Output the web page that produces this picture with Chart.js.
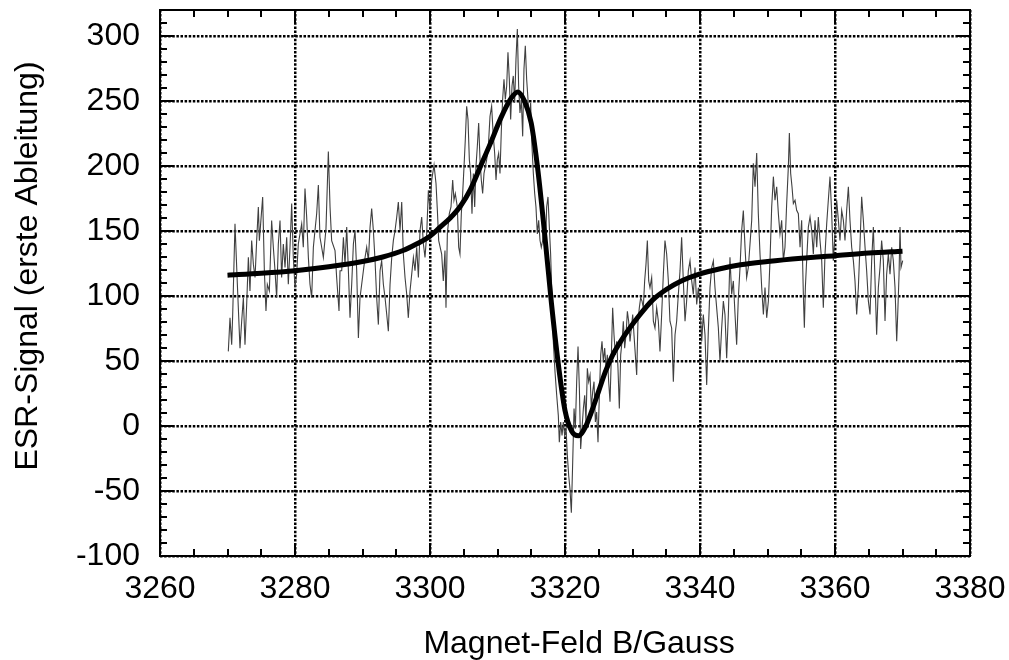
<!DOCTYPE html>
<html><head><meta charset="utf-8">
<script src="https://cdn.jsdelivr.net/npm/chart.js@4/dist/chart.umd.min.js"></script>
<style>html,body{margin:0;padding:0;background:#fff;}#wrap{width:1009px;height:660px;}</style>
</head><body><div id="wrap"><canvas id="c" width="1009" height="660"></canvas></div>
<script>
const xTicks = [3260,3280,3300,3320,3340,3360,3380];
const yTicks = [-100,-50,0,50,100,150,200,250,300];
const xMinorStep = 5, yMinorStep = 10;
const xTitle = 'Magnet-Feld B/Gauss';
const yTitle = 'ESR-Signal (erste Ableitung)';

// measured signal [B (Gauss), signal]
const measured = [
[3270.12,57.4],[3270.37,83.2],[3270.62,62.5],[3270.77,85.8],[3271.11,155.5],[3271.46,109.0],[3271.85,59.9],[3272.10,80.6],[3272.35,98.7],[3272.59,62.5],[3272.84,93.5],[3273.09,129.7],[3273.33,103.9],[3273.58,142.6],[3273.83,124.5],[3274.08,114.2],[3274.32,142.6],[3274.57,168.5],[3274.72,142.6],[3274.91,155.5],[3275.21,176.2],[3275.46,119.4],[3275.70,88.4],[3275.90,109.0],[3276.20,103.9],[3276.54,158.1],[3276.79,137.5],[3277.04,119.4],[3277.28,98.7],[3277.53,140.0],[3277.78,158.1],[3278.02,114.2],[3278.27,140.0],[3278.52,122.0],[3278.77,145.2],[3279.01,109.0],[3279.26,137.5],[3279.51,171.1],[3279.75,129.7],[3280.00,106.5],[3280.25,116.8],[3280.49,140.0],[3280.99,155.5],[3281.23,137.5],[3281.48,182.7],[3281.73,160.7],[3281.98,129.7],[3282.22,109.0],[3282.47,98.7],[3282.72,137.5],[3282.96,150.4],[3283.21,163.3],[3283.46,185.3],[3283.70,145.2],[3283.95,137.5],[3284.20,129.7],[3284.59,151.7],[3284.94,211.1],[3285.19,168.5],[3285.43,142.6],[3285.93,134.9],[3286.17,114.2],[3286.52,88.4],[3286.67,119.4],
[3286.92,119.4],[3287.17,145.2],[3287.41,124.5],[3287.66,153.0],[3287.91,119.4],[3288.15,83.2],[3288.40,109.0],[3288.65,140.0],[3288.89,150.4],[3289.14,119.4],[3289.39,67.7],[3289.63,98.7],[3289.88,109.0],[3290.13,119.4],[3290.38,129.7],[3290.62,137.5],[3290.87,127.1],[3291.12,153.0],[3291.36,167.2],[3291.61,150.4],[3291.86,127.1],[3292.10,98.7],[3292.35,78.0],[3292.60,119.4],[3292.84,127.1],[3293.09,109.0],[3293.34,98.7],[3293.59,85.8],[3293.83,72.9],[3294.08,109.0],[3294.33,129.7],[3294.57,142.6],[3294.82,150.4],[3295.07,160.7],[3295.31,172.3],[3295.56,150.4],[3295.81,172.3],[3296.05,132.3],[3296.30,114.2],[3296.55,101.3],[3296.79,83.2],[3297.04,103.9],[3297.29,116.8],[3297.54,129.7],[3297.78,119.4],[3298.03,137.5],[3298.28,114.2],[3298.52,150.4],[3298.77,160.7],[3299.02,140.0],[3299.26,129.7],[3299.51,147.8],[3299.76,181.4],[3300.00,165.9],[3300.25,189.1],[3300.60,200.8],[3300.89,186.6],[3301.09,165.9],[3301.29,142.6],
[3301.73,132.3],[3301.97,111.6],[3302.22,134.9],[3302.37,91.0],[3302.57,147.8],[3302.86,163.3],[3303.11,168.5],[3303.36,189.2],[3303.55,173.7],[3303.75,178.8],[3304.05,168.5],[3304.25,137.5],[3304.44,132.3],[3304.64,163.3],[3304.84,178.8],[3305.04,199.5],[3305.23,220.2],[3305.43,246.0],[3305.63,235.7],[3305.83,204.7],[3306.02,194.3],[3306.22,163.3],[3306.42,194.3],[3306.62,168.5],[3306.81,199.5],[3307.01,215.0],[3307.21,233.1],[3307.41,204.7],[3307.60,189.2],[3307.80,178.8],[3308.00,194.3],[3308.20,199.5],[3308.39,204.7],[3308.64,215.0],[3308.89,238.3],[3309.13,246.0],[3309.38,222.8],[3309.58,209.8],[3309.78,189.2],[3309.97,204.7],[3310.17,209.8],[3310.37,194.3],[3310.57,227.9],[3310.76,251.2],[3310.96,266.7],[3311.16,251.2],[3311.36,261.5],[3311.55,287.4],[3311.75,266.7],[3311.95,235.7],[3312.15,261.5],[3312.34,269.3],[3312.54,248.6],[3312.74,282.2],[3312.94,305.4],[3313.13,261.5],[3313.33,240.8],[3313.53,251.2],[3313.73,222.8],[3313.92,274.4],[3314.12,292.5],[3314.32,266.7],[3314.52,251.2],[3314.71,235.7],[3314.91,248.6],[3315.11,215.0],[3315.31,194.3],[3315.51,178.8],[3315.70,168.5],[3315.90,147.8],[3316.10,158.2],[3316.30,142.7],[3316.49,137.5],[3316.69,142.7],[3316.89,158.2],[3317.09,132.3],[3317.28,168.5],[3317.48,176.2],[3317.68,153.0],[3317.87,132.3],
[3318.27,65.1],[3318.52,41.8],[3318.77,23.7],[3319.01,8.2],[3319.16,-12.4],[3319.36,3.1],[3319.56,-7.3],[3319.75,3.1],[3319.95,-7.3],[3320.15,-2.1],[3320.35,-22.8],[3320.55,-38.3],[3320.74,-48.6],[3320.94,-66.7],[3321.14,-27.9],[3321.34,13.4],[3321.53,-2.1],[3321.73,34.1],[3321.93,61.2],[3322.13,28.9],[3322.32,-17.6],[3322.52,-2.1],[3322.72,13.4],[3322.92,23.7],[3323.11,3.1],[3323.31,44.4],[3323.51,34.1],[3323.71,39.2],[3323.90,13.4],[3324.10,26.3],[3324.30,34.1],[3324.50,3.1],[3324.69,10.8],[3324.89,-12.4],[3325.09,23.7],[3325.29,54.7],[3325.48,65.1],[3325.68,49.6],[3325.88,59.9],[3326.08,44.4],[3326.27,54.7],[3326.47,34.1],[3326.67,18.6],[3326.87,54.7],[3327.06,90.9],[3327.26,70.2],[3327.46,54.7],[3327.66,65.1],[3327.85,44.4],[3328.05,13.4],[3328.25,54.7],[3328.45,65.1],[3328.64,80.6],[3328.84,59.9],[3329.04,70.2],[3329.24,88.3],[3329.43,80.6],[3329.63,65.1],[3329.83,75.4],[3330.03,85.7],[3330.22,70.2],[3330.42,54.7],[3330.62,39.2],[3330.81,80.6],[3331.01,90.9],[3331.21,98.7],[3331.41,96.1],[3331.60,90.9],[3331.80,111.6],[3332.00,124.5],[3332.20,142.6],[3332.40,111.6],[3332.59,106.4],
[3332.84,114.2],[3333.09,80.6],[3333.33,75.4],[3333.58,90.9],[3333.83,80.6],[3334.07,57.3],[3334.32,85.7],[3334.57,116.7],[3334.81,142.6],[3335.06,132.3],[3335.31,111.6],[3335.55,80.6],[3335.80,75.4],[3336.05,34.1],[3336.30,70.2],[3336.54,80.6],[3336.79,101.3],[3337.04,119.3],[3337.28,145.2],[3337.53,111.6],[3337.78,80.6],[3338.02,96.1],[3338.27,119.3],[3338.52,127.1],[3338.77,111.6],[3339.01,101.3],[3339.26,121.9],[3339.51,93.5],[3339.75,106.4],[3340.00,93.5],[3340.25,65.1],[3340.49,85.7],[3340.74,70.2],[3340.99,31.5],[3341.23,72.8],[3341.48,106.4],[3341.73,121.9],[3341.98,127.1],[3342.22,106.4],[3342.47,90.9],[3342.72,75.4],[3342.96,49.6],[3343.21,75.4],[3343.46,96.1],[3343.70,85.7],[3343.95,52.1],[3344.20,85.7],[3344.44,129.7],[3344.69,101.3],[3344.94,111.6],[3345.19,85.7],[3345.43,62.5],[3345.68,98.7],[3345.93,121.9],[3346.17,150.3],[3346.42,165.8],[3346.67,137.4],[3346.91,114.2],[3347.16,121.9],
[3347.66,158.2],[3347.90,202.1],[3348.15,184.0],[3348.40,209.9],[3348.64,163.3],[3348.89,132.3],[3349.14,106.5],[3349.39,85.8],[3349.63,106.5],[3349.88,83.2],[3350.13,96.2],[3350.37,127.2],[3350.62,168.5],[3350.87,191.8],[3351.11,173.7],[3351.36,184.0],[3351.61,163.3],[3351.85,147.8],[3352.10,158.2],[3352.35,127.2],[3352.59,137.5],[3352.84,171.1],[3353.09,199.5],[3353.24,225.4],[3353.43,194.4],[3353.63,184.0],[3353.83,171.1],[3354.08,173.7],[3354.32,165.9],[3354.57,163.3],[3354.82,137.5],[3355.06,158.2],[3355.31,101.3],[3355.46,75.5],[3355.61,106.5],[3355.80,127.2],[3356.05,153.0],[3356.30,160.8],[3356.55,150.4],[3356.79,132.3],[3357.04,158.2],[3357.29,137.5],[3357.53,160.8],[3357.78,142.7],[3358.03,127.2],[3358.27,91.0],[3358.52,132.3],[3358.77,155.6],[3359.01,173.7],[3359.26,191.8],[3359.51,163.3],[3359.75,127.2],[3360.00,147.8],[3360.25,173.7],[3360.50,158.2],[3360.74,142.7],[3360.99,165.9],[3361.24,158.2],[3361.48,142.7],[3361.73,165.9],[3361.98,184.0],[3362.22,158.2],[3362.47,137.5],[3362.72,127.2],[3362.96,111.7],[3363.21,85.8],[3363.46,106.5],[3363.71,140.1],[3363.95,176.3],[3364.20,158.2],[3364.45,137.5],[3364.69,119.4],[3364.94,96.2],[3365.19,85.8],[3365.43,127.2],[3365.68,153.0],[3365.93,111.7],[3366.17,70.3],[3366.42,106.5],[3366.67,122.0],[3366.91,142.7],[3367.16,127.2],[3367.41,80.7],[3367.65,116.8],[3367.90,132.3],[3368.15,116.8],[3368.40,137.5],[3368.64,127.2],[3368.89,106.5],[3369.14,65.2],[3369.29,85.8],[3369.49,116.8],[3369.63,153.0],[3369.78,122.0],[3370.03,127.2]
];

// fitted curve [B (Gauss), signal]
const fitted = [
[3270,116],[3275,117.5],[3280,119.5],[3285,122.5],[3290,126.5],[3293,130],[3296,135],[3298,140],[3300,146],[3301.5,153],[3303,160],[3304.5,169],[3306,182],[3307.5,200],[3309,218],[3310.5,237],[3312,252],[3313,257],[3314,250],[3315,233],[3316,196],[3317,147],[3318,94],[3319,48],[3320,12],[3321,-4],[3322,-7.5],[3323,-1],[3324,12],[3325,27],[3326,42],[3327,54],[3328,63],[3329,71],[3331,85],[3333,97],[3335,105],[3337,111],[3340,117],[3343,121],[3346,124],[3350,126.5],[3355,129],[3360,131],[3365,133],[3370,134.5]
];

const FONT = '"Liberation Sans", Arial, sans-serif';
const FS = 32;

const framePlugin = {
  id: 'frame',
  afterDraw(chart) {
    const {ctx, chartArea: a, scales: {x, y}} = chart;
    ctx.save();
    ctx.strokeStyle = '#000';
    ctx.lineWidth = 2;
    ctx.beginPath();
    for (let v = x.min + xMinorStep; v < x.max; v += xMinorStep) {
      const px = Math.round(x.getPixelForValue(v));
      const len = xTicks.includes(v) ? 13 : 7;
      ctx.moveTo(px, a.bottom); ctx.lineTo(px, a.bottom - len);
      ctx.moveTo(px, a.top); ctx.lineTo(px, a.top + len);
    }
    for (let v = y.min + yMinorStep; v < y.max; v += yMinorStep) {
      const py = Math.round(y.getPixelForValue(v));
      const len = yTicks.includes(v) ? 13 : 7;
      ctx.moveTo(a.left, py); ctx.lineTo(a.left + len, py);
      ctx.moveTo(a.right, py); ctx.lineTo(a.right - len, py);
    }
    ctx.stroke();
    ctx.strokeRect(a.left, a.top, a.right - a.left, a.bottom - a.top);
    ctx.fillStyle = '#000';
    ctx.font = FS + 'px ' + FONT;
    ctx.textAlign = 'center';
    ctx.textBaseline = 'alphabetic';
    ctx.fillText(xTitle, 579, 653);
    ctx.translate(28, 266);
    ctx.rotate(-Math.PI / 2);
    ctx.textBaseline = 'middle';
    ctx.fillText(yTitle, 0, 0);
    ctx.restore();
  }
};

function noPad(s) { s.paddingLeft = 0; s.paddingRight = 0; s.paddingTop = 0; s.paddingBottom = 0; }

new Chart(document.getElementById('c'), {
  type: 'line',
  data: {
    datasets: [
      {
        label: 'Messung',
        data: measured.map(p => ({x: p[0], y: p[1]})),
        borderColor: '#404040',
        borderWidth: 1.1,
        pointRadius: 0,
        tension: 0,
        order: 2
      },
      {
        label: 'Fit',
        data: fitted.map(p => ({x: p[0], y: p[1]})),
        borderColor: '#000',
        borderWidth: 5,
        pointRadius: 0,
        cubicInterpolationMode: 'monotone',
        order: 1
      }
    ]
  },
  options: {
    responsive: false,
    animation: false,
    devicePixelRatio: 1,
    layout: {padding: {top: 10, right: 39, left: 0, bottom: 0}},
    plugins: {legend: {display: false}, tooltip: {enabled: false}},
    scales: {
      x: {
        type: 'linear', min: 3260, max: 3380,
        afterBuildTicks: s => { s.ticks = xTicks.map(v => ({value: v})); },
        afterFit: s => { s.height = 104; noPad(s); },
        ticks: {color: '#000', font: {family: FONT, size: FS}, padding: 14, maxRotation: 0, autoSkip: false, callback: v => String(v)},
        grid: {color: '#000', lineWidth: 2.5, drawTicks: false, borderDash: [2.5, 1.6]},
        border: {display: false, dash: [2.5, 1.6]},
        title: {display: false, text: xTitle}
      },
      y: {
        type: 'linear', min: -100, max: 320,
        afterBuildTicks: s => { s.ticks = yTicks.map(v => ({value: v})); },
        afterFit: s => { s.width = 160; noPad(s); },
        ticks: {color: '#000', font: {family: FONT, size: FS}, padding: 20, autoSkip: false, callback: v => String(v)},
        grid: {color: '#000', lineWidth: 2.5, drawTicks: false, borderDash: [2.5, 1.6]},
        border: {display: false, dash: [2.5, 1.6]},
        title: {display: false, text: yTitle}
      }
    }
  },
  plugins: [framePlugin]
});
</script>
</body></html>
